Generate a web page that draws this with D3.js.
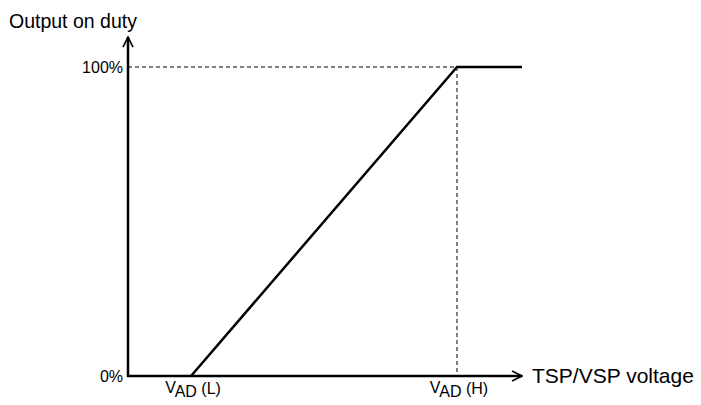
<!DOCTYPE html>
<html>
<head>
<meta charset="utf-8">
<script src="https://cdn.jsdelivr.net/npm/d3@7"></script>
<style>
  body { margin: 0; background: #fff; }
  svg { font-family: "Liberation Sans", Arial, sans-serif; }
</style>
</head>
<body>
<div id="chart"></div>
<script>
// characteristic: output duty vs input voltage (arbitrary voltage units)
var voltage = [16, 83.5, 100];
var duty = [0, 100, 100];
var tickLabels = ["0%", "100%"];
var tickValues = [0, 100];
var xMarks = [16, 83.5];
var xMarkLabels = [["V", "AD", " (L)"], ["V", "AD", " (H)"]];

const width = 701;
const height = 405;

const svg = d3.select("#chart")
    .append("svg")
    .attr("width", width)
    .attr("height", height);

const x = d3.scaleLinear().domain([0, 100]).range([128, 522]);
const y = d3.scaleLinear().domain([0, 100]).range([376, 67]);

// arrow marker
svg.append("defs").append("marker")
    .attr("id", "arrow")
    .attr("viewBox", "0 0 10 10")
    .attr("refX", 9)
    .attr("refY", 5)
    .attr("markerWidth", 5)
    .attr("markerHeight", 5)
    .attr("markerUnits", "strokeWidth")
    .attr("orient", "auto")
    .append("path")
    .attr("d", "M1,1 L9,5 L1,9")
    .attr("fill", "none")
    .attr("stroke", "#000")
    .attr("stroke-width", 1.3);

// dashed guides
svg.append("line")
    .attr("x1", x(0)).attr("x2", x(xMarks[1]))
    .attr("y1", y(100)).attr("y2", y(100))
    .attr("stroke", "#000").attr("stroke-width", 1)
    .attr("stroke-dasharray", "4,3");

svg.append("line")
    .attr("x1", x(xMarks[1])).attr("x2", x(xMarks[1]))
    .attr("y1", y(100)).attr("y2", y(0))
    .attr("stroke", "#000").attr("stroke-width", 1)
    .attr("stroke-dasharray", "4,3");

// axes
svg.append("line")
    .attr("x1", x(0)).attr("x2", x(0))
    .attr("y1", y(0) + 1).attr("y2", y(109.7))
    .attr("stroke", "#000").attr("stroke-width", 2.5)
    .attr("marker-end", "url(#arrow)");

svg.append("line")
    .attr("x1", x(0) - 1).attr("x2", x(100))
    .attr("y1", y(0)).attr("y2", y(0))
    .attr("stroke", "#000").attr("stroke-width", 2.5)
    .attr("marker-end", "url(#arrow)");

// the characteristic line
svg.append("path")
    .datum(duty)
    .attr("d", d3.line()
        .x(function (d, i) { return x(voltage[i]); })
        .y(function (d) { return y(d); }))
    .attr("fill", "none")
    .attr("stroke", "#000")
    .attr("stroke-width", 2.5);

// y tick labels
svg.selectAll(".ytick")
    .data(tickValues)
    .enter().append("text")
    .attr("class", "ytick")
    .attr("x", x(0) - 5)
    .attr("y", function (d) { return y(d) + 6; })
    .attr("text-anchor", "end")
    .style("font-size", "16px")
    .text(function (d, i) { return tickLabels[i]; });

// x mark labels V_AD (L), V_AD (H)
const xl = svg.selectAll(".xtick")
    .data(xMarks)
    .enter().append("text")
    .attr("class", "xtick")
    .attr("x", function (d) { return x(d) + 2; })
    .attr("y", 393)
    .attr("text-anchor", "middle")
    .style("font-size", "16px");

xl.append("tspan").text(function (d, i) { return xMarkLabels[i][0]; });
xl.append("tspan").attr("dy", 4)
    .text(function (d, i) { return xMarkLabels[i][1]; });
xl.append("tspan").attr("dy", -3)
    .text(function (d, i) { return xMarkLabels[i][2]; });

// axis titles
svg.append("text")
    .attr("x", 9)
    .attr("y", 28)
    .style("font-size", "19.5px")
    .text("Output on duty");

svg.append("text")
    .attr("x", 532)
    .attr("y", 383)
    .style("font-size", "21px")
    .text("TSP/VSP voltage");
</script>
</body>
</html>
